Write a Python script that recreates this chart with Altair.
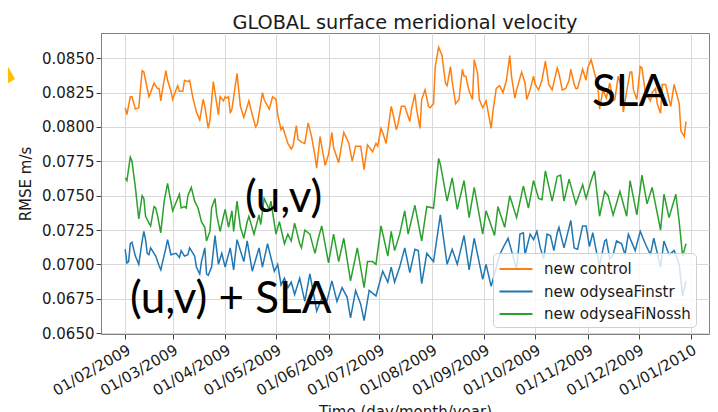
import altair as alt
import pandas as pd

# ---------------- data ----------------
series_names = ["new control", "new odyseaFinstr", "new odyseaFiNossh"]
series_colors = ["#ff7f0e", "#1f77b4", "#2ca02c"]
start_date = "2009-02-01"  # day offsets below count from this date

control_days = [0, 1, 3, 4, 6, 8, 10, 11, 14, 15, 17, 19, 20, 21, 22, 24, 25, 27, 28, 30,
                31, 32, 34, 35, 37, 38, 40, 42, 44, 46, 47, 49, 50, 52, 54, 55, 56, 58, 59, 60,
                61, 62, 63, 66, 67, 68, 70, 72, 73, 75, 77, 78, 81, 82, 85, 87, 89, 90, 92, 93,
                94, 96, 98, 99, 101, 102, 104, 106, 108, 110, 112, 113, 115, 116, 118, 120, 122, 123, 126, 129,
                131, 132, 134, 136, 139, 141, 143, 146, 148, 149, 151, 152, 154, 157, 158, 160, 161, 163, 165, 168,
                169, 171, 172, 174, 175, 177, 179, 180, 182, 183, 184, 185, 187, 189, 190, 192, 193, 195, 197, 199,
                200, 201, 203, 205, 206, 208, 209, 211, 213, 216, 217, 219, 221, 223, 225, 227, 228, 230, 231, 234,
                236, 237, 239, 241, 242, 244, 246, 248, 250, 252, 255, 256, 258, 260, 262, 263, 265, 266, 267, 270,
                272, 273, 275, 276, 279, 280, 282, 284, 286, 288, 289, 291, 293, 294, 296, 298, 299, 300, 302, 304,
                305, 307, 310, 311, 313, 314, 316, 317, 319, 321, 322, 324, 327, 328, 330, 331]
control_rmse = [0.0814, 0.0809, 0.0822, 0.0822, 0.0813, 0.0814, 0.0841, 0.0840, 0.0822, 0.0825,
                0.0832, 0.0828, 0.0828, 0.0819, 0.0827, 0.0841, 0.0834, 0.0826, 0.0820, 0.0827,
                0.0830, 0.0826, 0.0826, 0.0834, 0.0833, 0.0834, 0.0821, 0.0811, 0.0805, 0.0820,
                0.0815, 0.0799, 0.0805, 0.0833, 0.0817, 0.0809, 0.0822, 0.0819, 0.0822, 0.0821,
                0.0822, 0.0810, 0.0813, 0.0839, 0.0827, 0.0815, 0.0807, 0.0815, 0.0819, 0.0809,
                0.0800, 0.0802, 0.0825, 0.0820, 0.0813, 0.0822, 0.0820, 0.0809, 0.0798, 0.0800,
                0.0796, 0.0788, 0.0784, 0.0786, 0.0801, 0.0791, 0.0789, 0.0788, 0.0803, 0.0793,
                0.0779, 0.0770, 0.0793, 0.0786, 0.0772, 0.0780, 0.0796, 0.0785, 0.0774, 0.0796,
                0.0791, 0.0788, 0.0775, 0.0786, 0.0786, 0.0769, 0.0787, 0.0782, 0.0788, 0.0786,
                0.0799, 0.0796, 0.0788, 0.0815, 0.0810, 0.0798, 0.0802, 0.0815, 0.0815, 0.0804,
                0.0813, 0.0824, 0.0813, 0.0799, 0.0820, 0.0827, 0.0815, 0.0814, 0.0817, 0.0844,
                0.0851, 0.0858, 0.0852, 0.0832, 0.0830, 0.0844, 0.0833, 0.0817, 0.0820, 0.0842,
                0.0837, 0.0837, 0.0826, 0.0820, 0.0849, 0.0839, 0.0820, 0.0814, 0.0819, 0.0799,
                0.0811, 0.0828, 0.0830, 0.0825, 0.0834, 0.0852, 0.0837, 0.0821, 0.0827, 0.0840,
                0.0832, 0.0820, 0.0827, 0.0837, 0.0831, 0.0827, 0.0834, 0.0848, 0.0831, 0.0827,
                0.0843, 0.0839, 0.0827, 0.0828, 0.0834, 0.0842, 0.0831, 0.0828, 0.0828, 0.0842,
                0.0834, 0.0843, 0.0849, 0.0844, 0.0830, 0.0813, 0.0827, 0.0821, 0.0832, 0.0819,
                0.0820, 0.0837, 0.0828, 0.0811, 0.0826, 0.0840, 0.0840, 0.0827, 0.0820, 0.0844,
                0.0843, 0.0825, 0.0819, 0.0825, 0.0828, 0.0817, 0.0810, 0.0831, 0.0831, 0.0820,
                0.0815, 0.0831, 0.0817, 0.0797, 0.0793, 0.0804]

finstr_days = [0, 1, 2, 3, 4, 6, 8, 10, 11, 12, 13, 14, 15, 17, 18, 20, 21, 24, 25, 27,
               30, 32, 33, 35, 37, 38, 41, 42, 44, 45, 47, 48, 49, 51, 53, 55, 57, 59, 62, 64,
               66, 70, 72, 75, 79, 81, 84, 88, 90, 92, 94, 96, 98, 100, 103, 106, 109, 112, 113, 117,
               119, 122, 125, 128, 131, 133, 136, 139, 141, 144, 148, 152, 155, 157, 159, 162, 165, 168, 171, 173,
               175, 178, 182, 186, 190, 193, 196, 200, 203, 206, 211, 213, 216, 219, 221, 223, 226, 228, 231, 233,
               235, 236, 239, 241, 243, 245, 247, 249, 251, 253, 255, 256, 259, 263, 265, 267, 270, 272, 274, 276,
               278, 280, 283, 284, 286, 288, 290, 293, 295, 297, 301, 304, 307, 310, 312, 316, 318, 321, 324, 327,
               329, 331]
finstr_rmse = [0.0711, 0.0701, 0.0702, 0.0715, 0.0716, 0.0706, 0.0700, 0.0717, 0.0724, 0.0718,
               0.0708, 0.0707, 0.0712, 0.0708, 0.0706, 0.0699, 0.0696, 0.0712, 0.0718, 0.0707,
               0.0708, 0.0705, 0.0710, 0.0706, 0.0707, 0.0712, 0.0706, 0.0698, 0.0693, 0.0702,
               0.0712, 0.0693, 0.0692, 0.0698, 0.0721, 0.0700, 0.0708, 0.0698, 0.0712, 0.0696,
               0.0718, 0.0702, 0.0717, 0.0695, 0.0712, 0.0698, 0.0715, 0.0695, 0.0700, 0.0685,
               0.0690, 0.0683, 0.0687, 0.0678, 0.0690, 0.0673, 0.0693, 0.0673, 0.0666, 0.0678,
               0.0673, 0.0688, 0.0673, 0.0683, 0.0676, 0.0661, 0.0681, 0.0671, 0.0659, 0.0681,
               0.0677, 0.0695, 0.0687, 0.0698, 0.0687, 0.0698, 0.0712, 0.0694, 0.0711, 0.0710,
               0.0686, 0.0708, 0.0702, 0.0736, 0.0700, 0.0711, 0.0700, 0.0721, 0.0696, 0.0719,
               0.0689, 0.0700, 0.0684, 0.0698, 0.0707, 0.0712, 0.0719, 0.0710, 0.0696, 0.0722,
               0.0723, 0.0707, 0.0722, 0.0718, 0.0724, 0.0712, 0.0704, 0.0722, 0.0721, 0.0710,
               0.0723, 0.0727, 0.0712, 0.0732, 0.0712, 0.0711, 0.0728, 0.0728, 0.0713, 0.0723,
               0.0710, 0.0699, 0.0717, 0.0718, 0.0704, 0.0707, 0.0717, 0.0715, 0.0707, 0.0722,
               0.0710, 0.0724, 0.0715, 0.0707, 0.0719, 0.0698, 0.0717, 0.0707, 0.0710, 0.0700,
               0.0677, 0.0688]

finossh_days = [0, 1, 3, 4, 6, 8, 10, 11, 12, 14, 15, 17, 18, 19, 21, 23, 25, 26, 28, 30,
                32, 33, 35, 36, 37, 39, 41, 43, 45, 47, 48, 50, 51, 53, 54, 56, 58, 59, 61, 63,
                64, 66, 68, 70, 72, 73, 76, 79, 80, 82, 85, 86, 89, 91, 94, 96, 98, 100, 103, 104,
                106, 109, 112, 114, 116, 120, 123, 126, 129, 133, 137, 141, 143, 146, 148, 151, 155, 157, 159, 162,
                165, 167, 171, 175, 178, 182, 185, 186, 190, 193, 196, 200, 203, 206, 211, 213, 218, 220, 224, 227,
                231, 235, 238, 241, 244, 246, 248, 252, 255, 257, 259, 262, 266, 270, 272, 275, 277, 280, 283, 285,
                288, 292, 296, 298, 302, 305, 308, 311, 316, 318, 321, 325, 327, 329, 331]
finossh_rmse = [0.0763, 0.0761, 0.0778, 0.0775, 0.0756, 0.0733, 0.0750, 0.0748, 0.0735, 0.0730,
                0.0728, 0.0742, 0.0741, 0.0736, 0.0723, 0.0746, 0.0759, 0.0752, 0.0739, 0.0745,
                0.0751, 0.0741, 0.0742, 0.0741, 0.0750, 0.0756, 0.0746, 0.0741, 0.0731, 0.0727,
                0.0717, 0.0724, 0.0741, 0.0748, 0.0736, 0.0724, 0.0735, 0.0740, 0.0727, 0.0739,
                0.0724, 0.0746, 0.0727, 0.0719, 0.0731, 0.0735, 0.0722, 0.0736, 0.0729, 0.0748,
                0.0740, 0.0746, 0.0722, 0.0731, 0.0715, 0.0722, 0.0717, 0.0730, 0.0715, 0.0712,
                0.0725, 0.0722, 0.0708, 0.0719, 0.0728, 0.0701, 0.0722, 0.0702, 0.0719, 0.0688,
                0.0712, 0.0683, 0.0702, 0.0702, 0.0700, 0.0728, 0.0706, 0.0724, 0.0710, 0.0722,
                0.0739, 0.0722, 0.0743, 0.0717, 0.0742, 0.0741, 0.0777, 0.0773, 0.0746, 0.0763,
                0.0740, 0.0761, 0.0734, 0.0756, 0.0722, 0.0739, 0.0721, 0.0742, 0.0727, 0.0750,
                0.0734, 0.0757, 0.0741, 0.0761, 0.0748, 0.0747, 0.0768, 0.0746, 0.0764, 0.0765,
                0.0746, 0.0762, 0.0744, 0.0758, 0.0748, 0.0761, 0.0768, 0.0735, 0.0753, 0.0750,
                0.0736, 0.0753, 0.0735, 0.0761, 0.0736, 0.0765, 0.0744, 0.0756, 0.0725, 0.0751,
                0.0734, 0.0751, 0.0731, 0.0706, 0.0715]

# axis ticks
month_ticks = [(2009, 2), (2009, 3), (2009, 4), (2009, 5), (2009, 6), (2009, 7),
               (2009, 8), (2009, 9), (2009, 10), (2009, 11), (2009, 12), (2010, 1)]
y_ticks = [0.0650, 0.0675, 0.0700, 0.0725, 0.0750, 0.0775, 0.0800, 0.0825, 0.0850]

chart_title = "GLOBAL surface meridional velocity"
x_title = "Time (day/month/year)"
y_title = "RMSE m/s"
annotation_texts = ["SLA", "(u,v)", "(u,v) + SLA"]

# ---------------- build table ----------------
frames = []
for name, days, vals in [(series_names[0], control_days, control_rmse),
                         (series_names[1], finstr_days, finstr_rmse),
                         (series_names[2], finossh_days, finossh_rmse)]:
    d = pd.Timestamp(start_date) + pd.to_timedelta(days, unit="D")
    frames.append(pd.DataFrame({"date": d, "rmse": vals, "series": name}))
df = pd.concat(frames, ignore_index=True)
df["order"] = df["series"].map({n: i for i, n in enumerate(series_names)})

W, H = 608, 301

x_scale = alt.Scale(domain=[alt.DateTime(year=2009, month=1, date=17, hours=17),
                            alt.DateTime(year=2010, month=1, date=11, hours=14)])
y_scale = alt.Scale(domain=[0.06493, 0.08684], nice=False, zero=False)

lines = alt.Chart(df).mark_line(strokeWidth=1.5).encode(
    x=alt.X("date:T", scale=x_scale,
            axis=alt.Axis(values=[alt.DateTime(year=y, month=m, date=1) for y, m in month_ticks],
                          format="%d/%m/%Y", labelAngle=-30, labelAlign="right",
                          labelBaseline="top", labelPadding=3, title=x_title,
                          titlePadding=6, labelOverlap=False, labelFlush=False)),
    y=alt.Y("rmse:Q", scale=y_scale,
            axis=alt.Axis(values=y_ticks, format=".4f", title=y_title,
                          titlePadding=8, labelPadding=2)),
    color=alt.Color("series:N",
                    scale=alt.Scale(domain=series_names, range=series_colors),
                    legend=alt.Legend(title=None, orient="none", legendX=392, legendY=220,
                                      fillColor="rgba(255,255,255,0.8)", strokeColor="#d0d0d0",
                                      cornerRadius=4, padding=5,
                                      symbolType="M-0.95,0L2.35,0", symbolSize=400,
                                      symbolStrokeWidth=2, labelOffset=24,
                                      labelFont="DejaVu Sans", labelFontSize=15,
                                      labelColor="#1a1a1a", rowPadding=3.5)),
    detail="series:N",
    order=alt.Order("order:Q"),
)

ann_font = "Lato"
ann_size = 44
ann_sla = alt.Chart(pd.DataFrame({"t": [annotation_texts[0]]})).mark_text(
    font=ann_font, fontSize=ann_size, align="left", baseline="alphabetic", color="black"
).encode(text="t:N", x=alt.value(491), y=alt.value(73))
ann_uv = alt.Chart(pd.DataFrame({"t": [annotation_texts[1]]})).mark_text(
    font=ann_font, fontSize=ann_size, align="left", baseline="alphabetic", color="black"
).encode(text="t:N", x=alt.value(144), y=alt.value(179))
ann_uvsla = alt.Chart(pd.DataFrame({"t": [annotation_texts[2]]})).mark_text(
    font=ann_font, fontSize=ann_size, align="left", baseline="alphabetic", color="black"
).encode(text="t:N", x=alt.value(29), y=alt.value(280))

yellow = alt.Chart(pd.DataFrame({"k": [0]})).mark_point(
    shape="M-8,-18L7,9L-8,18Z", filled=True, color="#FFC000", opacity=1, size=4, strokeWidth=0
).encode(x=alt.value(-93), y=alt.value(37))

chart = alt.layer(lines, ann_sla, ann_uv, ann_uvsla, yellow).properties(
    width=W, height=H,
    title=alt.TitleParams(text=chart_title, font="DejaVu Sans", fontSize=19.3,
                          fontWeight="normal", anchor="middle", baseline="alphabetic",
                          offset=-15, color="#1a1a1a"),
    autosize=alt.AutoSizeParams(type="none"),
    padding={"left": 93, "top": 25, "right": 1, "bottom": 85},
).configure_axis(
    labelFont="DejaVu Sans", labelFontSize=15, labelColor="#1a1a1a",
    titleFont="DejaVu Sans", titleFontSize=15, titleFontWeight="normal", titleColor="#1a1a1a",
    gridColor="#d9d9d9", gridWidth=1, domainColor="#808080", tickColor="#404040", tickSize=5,
).configure_view(stroke="#808080", strokeWidth=1)

chart.save("out.html", embed_options={"renderer": "svg", "actions": False})
